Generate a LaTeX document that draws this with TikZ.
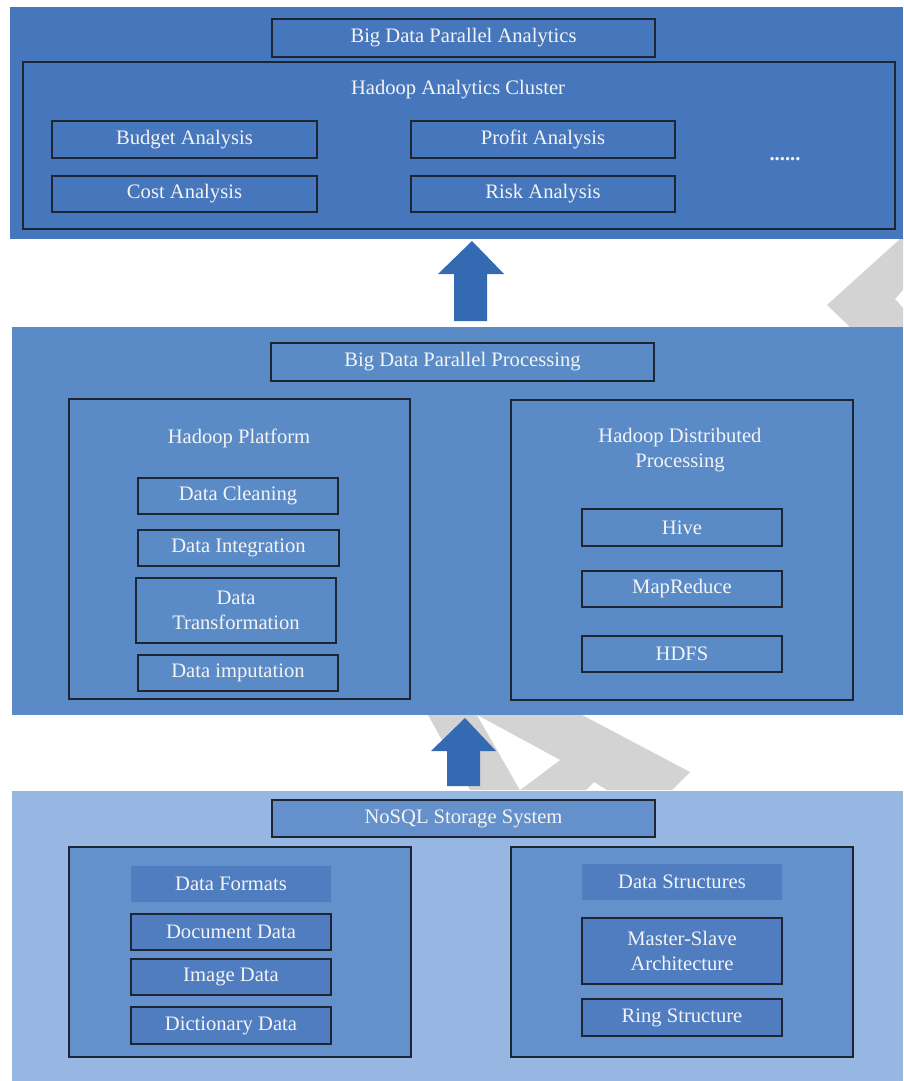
\documentclass[tikz,border=0pt]{standalone}
\usepackage{fontspec}
\setmainfont{Liberation Serif}
\definecolor{ptop}{HTML}{4677BD}
\definecolor{pmid}{HTML}{5B8BC7}
\definecolor{pbot}{HTML}{95B7E1}
\definecolor{pbin}{HTML}{6491CB}
\definecolor{pbit}{HTML}{4F7DC0}
\definecolor{arrowc}{HTML}{336AB2}
\definecolor{edgec}{HTML}{1E2533}
\definecolor{txtc}{HTML}{F4F4F4}
\definecolor{wmark}{HTML}{D3D3D3}
\tikzset{
  panel/.style={draw=none, inner sep=0pt, minimum width=#1},
  box/.style={draw=edgec, line width=1.3pt, inner sep=0pt, text=txtc, align=center,
    font=\fontsize{20.6}{25}\selectfont},
  label/.style={inner sep=0pt, text=txtc, align=center, font=\fontsize{20.6}{25}\selectfont},
  bigarrow/.style={fill=arrowc, draw=none},
}
\begin{document}
\begin{tikzpicture}[x=1pt,y=-1pt]
\useasboundingbox (0,0) rectangle (903,1081);
\fill[white] (0,0) rectangle (903,1081);
% watermark fragments
\fill[wmark] (827,305) -- (900,239) -- (903,239) -- (903,290) -- (895,299) -- (903,308) -- (903,327) -- (850,327) -- cycle;
\fill[wmark] (428,715) -- (582,715) -- (690,772) -- (672,790) -- (607,790) -- (594,782) -- (586,790) -- (470,790) -- cycle;
\fill[white] (477,715) -- (560,760) -- (520,790) -- cycle;
% panels
\node[panel=893pt, minimum height=232pt, fill=ptop] (toppanel) at (456.5,123) {};
\node[panel=891pt, minimum height=388pt, fill=pmid] (midpanel) at (457.5,521) {};
\node[panel=891pt, minimum height=290pt, fill=pbot] (botpanel) at (457.5,936) {};
% top panel
\node[box, fill=ptop, minimum width=383pt, minimum height=38pt] (bdpa) at (463.5,38) {Big Data Parallel Analytics};
\node[box, fill=ptop, minimum width=872pt, minimum height=167pt] (hac) at (459,145.5) {};
\node[label] (hactitle) at (458,90) {Hadoop Analytics Cluster};
\node[box, fill=ptop, minimum width=265pt, minimum height=37pt] (budget) at (184.5,139.5) {Budget Analysis};
\node[box, fill=ptop, minimum width=264pt, minimum height=37pt] (profit) at (543,139.5) {Profit Analysis};
\node[box, fill=ptop, minimum width=265pt, minimum height=36pt] (cost) at (184.5,194) {Cost Analysis};
\node[box, fill=ptop, minimum width=264pt, minimum height=36pt] (risk) at (543,194) {Risk Analysis};
\node[label, anchor=base] (dots) at (785,160) {\textbf{......}};
% arrow 1
\fill[bigarrow] (472,241) -- (504,274) -- (487,274) -- (487,321) -- (454,321) -- (454,274) -- (438,274) -- cycle;
% middle panel
\node[box, fill=pmid, minimum width=383pt, minimum height=38pt] (bdpp) at (462.5,362) {Big Data Parallel Processing};
\node[box, fill=pmid, minimum width=341pt, minimum height=300pt] (hp) at (239.5,549) {};
\node[label] (hptitle) at (239,438) {Hadoop Platform};
\node[box, fill=pmid, minimum width=200pt, minimum height=36pt] (clean) at (238,496) {Data Cleaning};
\node[box, fill=pmid, minimum width=201pt, minimum height=36pt] (integ) at (238.5,548) {Data Integration};
\node[box, fill=pmid, minimum width=200pt, minimum height=65pt] (trans) at (236,610.5) {Data\\Transformation};
\node[box, fill=pmid, minimum width=200pt, minimum height=36pt] (imput) at (238,673) {Data imputation};
\node[box, fill=pmid, minimum width=342pt, minimum height=300pt] (hdp) at (682,550) {};
\node[label] (hdptitle) at (680,450.5) {Hadoop Distributed\\Processing};
\node[box, fill=pmid, minimum width=200pt, minimum height=37pt] (hive) at (682,527.5) {Hive};
\node[box, fill=pmid, minimum width=200pt, minimum height=36pt] (mapr) at (682,589) {MapReduce};
\node[box, fill=pmid, minimum width=200pt, minimum height=36pt] (hdfs) at (682,654) {HDFS};
% arrow 2
\fill[bigarrow] (465,718) -- (496,751) -- (480,751) -- (480,786) -- (447,786) -- (447,751) -- (431,751) -- cycle;
% bottom panel
\node[box, fill=pbin, minimum width=383pt, minimum height=37pt] (nosql) at (463.5,818.5) {NoSQL Storage System};
\node[box, fill=pbin, minimum width=342pt, minimum height=210pt] (fmtbox) at (240,952) {};
\node[label, fill=pbit, minimum width=200pt, minimum height=36pt] (formats) at (231,884) {Data Formats};
\node[box, fill=pbit, minimum width=200pt, minimum height=36pt] (doc) at (231,932) {Document Data};
\node[box, fill=pbit, minimum width=200pt, minimum height=36pt] (img) at (231,977) {Image Data};
\node[box, fill=pbit, minimum width=200pt, minimum height=37pt] (dict) at (231,1025.5) {Dictionary Data};
\node[box, fill=pbin, minimum width=342pt, minimum height=210pt] (strbox) at (682,952) {};
\node[label, fill=pbit, minimum width=200pt, minimum height=36pt] (structs) at (682,882) {Data Structures};
\node[box, fill=pbit, minimum width=200pt, minimum height=66pt] (master) at (682,951) {Master-Slave\\Architecture};
\node[box, fill=pbit, minimum width=200pt, minimum height=37pt] (ring) at (682,1017.5) {Ring Structure};
\end{tikzpicture}
\end{document}
